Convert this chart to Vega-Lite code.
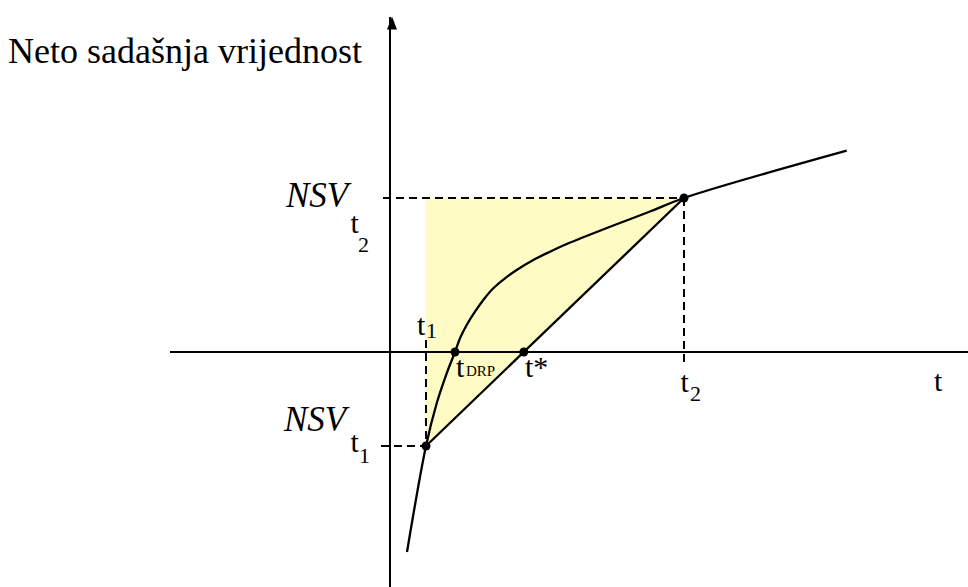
{
  "$schema": "https://vega.github.io/schema/vega-lite/v6.json",
  "width": 968,
  "height": 587,
  "autosize": "none",
  "padding": 0,
  "background": "white",
  "config": {"view": {"stroke": null}},
  "datasets": {
    "triangle": [
      {"t": 3.6, "v": 15.4, "v2": -9.4},
      {"t": 29.4, "v": 15.4, "v2": 15.4}
    ],
    "axes": [
      {"t": -22, "t2": 57.8, "v": 0, "v2": 0},
      {"t": 0, "t2": 0, "v": -23.5, "v2": 33.5}
    ],
    "arrow": [{"t": 0.2, "v": 32.9}],
    "dashes": [
      {"t": -0.7, "t2": 29.4, "v": 15.4, "v2": 15.4},
      {"t": 29.4, "t2": 29.4, "v": 15.4, "v2": -1.5},
      {"t": 3.6, "t2": 3.6, "v": 1.2, "v2": -9.4},
      {"t": -0.9, "t2": 3.6, "v": -9.4, "v2": -9.4}
    ],
    "curve": [
      {"t": 1.7, "v": -20.0},
      {"t": 3.6, "v": -9.4},
      {"t": 4.67, "v": -5.13},
      {"t": 5.67, "v": -2.13},
      {"t": 6.5, "v": 0},
      {"t": 7.0, "v": 1.37},
      {"t": 7.67, "v": 2.7},
      {"t": 8.5, "v": 4.03},
      {"t": 9.33, "v": 5.2},
      {"t": 10.33, "v": 6.37},
      {"t": 11.5, "v": 7.37},
      {"t": 12.67, "v": 8.2},
      {"t": 14.33, "v": 9.2},
      {"t": 16.0, "v": 10.03},
      {"t": 17.67, "v": 10.8},
      {"t": 19.33, "v": 11.47},
      {"t": 22.33, "v": 12.65},
      {"t": 26.0, "v": 14.05},
      {"t": 29.4, "v": 15.4},
      {"t": 45.67, "v": 20.13}
    ],
    "straight": [
      {"t": 3.6, "v": -9.4},
      {"t": 29.4, "v": 15.4}
    ],
    "dots": [
      {"t": 3.6, "v": -9.4},
      {"t": 6.5, "v": 0},
      {"t": 13.38, "v": 0},
      {"t": 29.4, "v": 15.4}
    ],
    "title": [{"t": -38.2, "v": 28.9, "label": "Neto sadašnja vrijednost"}],
    "nsv": [
      {"t": -10.4, "v": 14.5, "label": "NSV"},
      {"t": -10.6, "v": -7.9, "label": "NSV"}
    ],
    "tmain": [
      {"t": -3.95, "v": 11.9, "label": "t"},
      {"t": -3.95, "v": -9.97, "label": "t"},
      {"t": 2.7, "v": 1.7, "label": "t"},
      {"t": 6.6, "v": -2.5, "label": "t"},
      {"t": 13.5, "v": -2.5, "label": "t*"},
      {"t": 29.05, "v": -4.0, "label": "t"},
      {"t": 54.4, "v": -3.9, "label": "t"}
    ],
    "subs": [
      {"t": -3.2, "v": 10.05, "label": "2"},
      {"t": -3.1, "v": -11.1, "label": "1"},
      {"t": 3.6, "v": 1.4, "label": "1"},
      {"t": 30.0, "v": -4.9, "label": "2"}
    ],
    "drp": [{"t": 7.6, "v": -2.4, "label": "DRP"}]
  },
  "encoding": {
    "x": {"field": "t", "type": "quantitative", "scale": {"domain": [-39, 57.8], "nice": false, "zero": false}, "axis": null},
    "y": {"field": "v", "type": "quantitative", "scale": {"domain": [-23.5, 35.2], "nice": false, "zero": false}, "axis": null}
  },
  "layer": [
    {
      "data": {"name": "triangle"},
      "mark": {"type": "area", "color": "#fffbc4", "opacity": 1},
      "encoding": {"y2": {"field": "v2"}}
    },
    {
      "data": {"name": "axes"},
      "mark": {"type": "rule", "color": "black", "strokeWidth": 2},
      "encoding": {"x2": {"field": "t2"}, "y2": {"field": "v2"}}
    },
    {
      "data": {"name": "arrow"},
      "mark": {"type": "point", "shape": "M0,-1.3L1,1.3L-1,1.3Z", "size": 100, "filled": true, "color": "black", "opacity": 1},
      "encoding": {}
    },
    {
      "data": {"name": "dashes"},
      "mark": {"type": "rule", "color": "black", "strokeWidth": 2, "strokeDash": [8, 5]},
      "encoding": {"x2": {"field": "t2"}, "y2": {"field": "v2"}}
    },
    {
      "data": {"name": "curve"},
      "mark": {"type": "line", "color": "black", "strokeWidth": 2.3, "interpolate": "catmull-rom"},
      "encoding": {}
    },
    {
      "data": {"name": "straight"},
      "mark": {"type": "line", "color": "black", "strokeWidth": 2.3},
      "encoding": {}
    },
    {
      "data": {"name": "dots"},
      "mark": {"type": "point", "shape": "circle", "size": 80, "filled": true, "color": "black", "opacity": 1},
      "encoding": {}
    },
    {
      "data": {"name": "title"},
      "mark": {"type": "text", "font": "Liberation Serif", "fontSize": 36, "align": "left", "baseline": "alphabetic", "color": "black"},
      "encoding": {"text": {"field": "label"}}
    },
    {
      "data": {"name": "nsv"},
      "mark": {"type": "text", "font": "Liberation Serif", "fontSize": 35, "fontStyle": "italic", "align": "left", "baseline": "alphabetic", "color": "black"},
      "encoding": {"text": {"field": "label"}}
    },
    {
      "data": {"name": "tmain"},
      "mark": {"type": "text", "font": "Liberation Serif", "fontSize": 30, "align": "left", "baseline": "alphabetic", "color": "black"},
      "encoding": {"text": {"field": "label"}}
    },
    {
      "data": {"name": "subs"},
      "mark": {"type": "text", "font": "Liberation Serif", "fontSize": 22, "align": "left", "baseline": "alphabetic", "color": "black"},
      "encoding": {"text": {"field": "label"}}
    },
    {
      "data": {"name": "drp"},
      "mark": {"type": "text", "font": "Liberation Serif", "fontSize": 15, "align": "left", "baseline": "alphabetic", "color": "black"},
      "encoding": {"text": {"field": "label"}}
    }
  ]
}
